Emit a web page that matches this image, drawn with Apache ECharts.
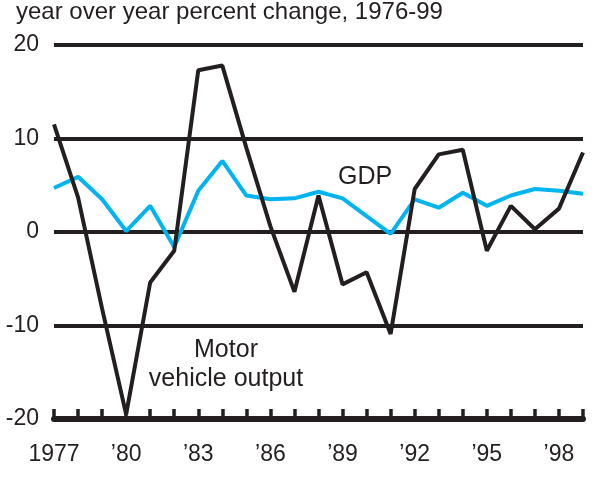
<!DOCTYPE html>
<html>
<head>
<meta charset="utf-8">
<script src="https://cdn.jsdelivr.net/npm/echarts@6/dist/echarts.min.js"></script>
<style>html,body{margin:0;padding:0;background:#fff}#c{width:600px;height:478px}</style>
</head>
<body>
<div id="c"></div>
<script>
const years = ['1977','1978','1979','1980','1981','1982','1983','1984','1985','1986','1987','1988','1989','1990','1991','1992','1993','1994','1995','1996','1997','1998','1999'];
const motorVehicle = [11.5,3.7,-8.2,-19.5,-5.4,-2.0,17.3,17.8,9.0,0.6,-6.4,3.9,-5.6,-4.3,-10.9,4.6,8.3,8.8,-2.0,2.8,0.3,2.5,8.5];
const gdp = [4.7,5.9,3.5,0.1,2.8,-1.6,4.4,7.6,3.9,3.5,3.6,4.3,3.6,1.7,-0.2,3.5,2.6,4.2,2.8,3.9,4.6,4.4,4.1];
const yTicks = {min:-20, max:20, interval:10};
const title = 'year over year percent change, 1976-99';

const ink = '#231f20';
const font = 'Liberation Sans, Arial, sans-serif';
const chart = echarts.init(document.getElementById('c'), null, {renderer:'canvas'});
chart.setOption({
  animation:false,
  backgroundColor:'#fff',
  grid:{left:54,right:17,top:45,bottom:59},
  xAxis:{
    type:'category',data:years,boundaryGap:false,
    axisLine:{show:true,onZero:false,lineStyle:{color:ink,width:6}},
    axisTick:{show:true,inside:true,length:10,interval:0,lineStyle:{color:ink,width:3.5}},
    axisLabel:{interval:2,margin:24,fontFamily:font,fontSize:23,color:ink,
      formatter:v=> v==='1977'? v : '\u2019'+v.slice(2)},
    splitLine:{show:false}
  },
  yAxis:{
    type:'value',min:yTicks.min,max:yTicks.max,interval:yTicks.interval,
    axisLine:{show:false},axisTick:{show:false},
    axisLabel:{margin:15,fontFamily:font,fontSize:23,color:ink,padding:[5,0,0,0]},
    splitLine:{show:true,lineStyle:{color:ink,width:4}}
  },
  series:[
    {name:'GDP',type:'line',data:gdp,symbol:'none',lineStyle:{color:'#00b4ef',width:4},z:3},
    {name:'Motor vehicle output',type:'line',data:motorVehicle,symbol:'none',lineStyle:{color:ink,width:4},z:4}
  ],
  graphic:[
    {type:'text',x:16,y:12,style:{text:title,font:'24px '+font,fill:ink,verticalAlign:'middle'}},
    {type:'text',x:338,y:177,style:{text:'GDP',font:'25px '+font,fill:ink,verticalAlign:'middle'}},
    {type:'text',x:226,y:350,style:{text:'Motor',font:'25px '+font,fill:ink,align:'center',verticalAlign:'middle'}},
    {type:'text',x:226,y:379,style:{text:'vehicle output',font:'25px '+font,fill:ink,align:'center',verticalAlign:'middle'}}
  ]
});
</script>
</body>
</html>
